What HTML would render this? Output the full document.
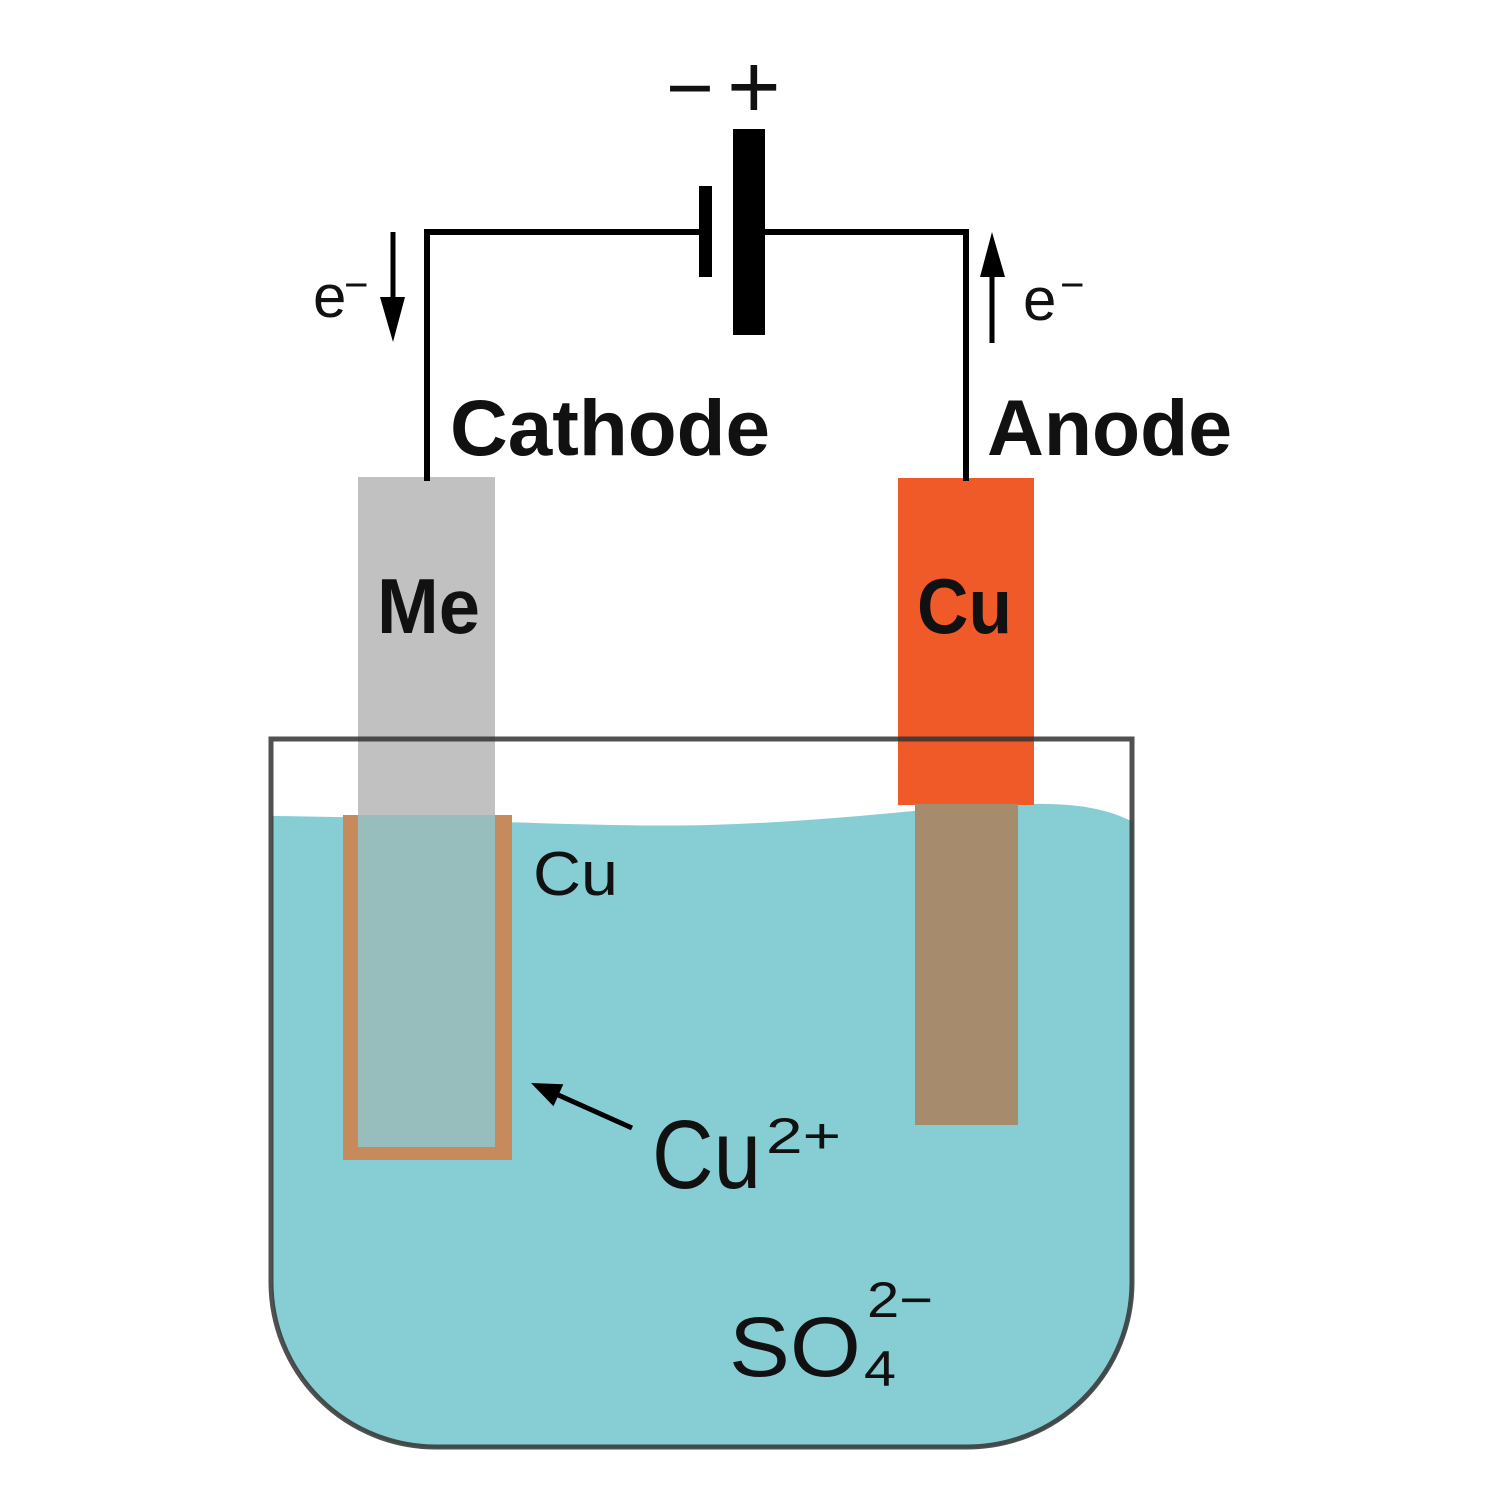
<!DOCTYPE html>
<html><head><meta charset="utf-8"><style>
html,body{margin:0;padding:0;background:#fff;}
svg{display:block;}
text{font-family:"Liberation Sans",Arial,sans-serif;fill:#111;}
</style></head><body>
<svg width="1500" height="1500" viewBox="0 0 1500 1500" xmlns="http://www.w3.org/2000/svg">
<rect width="1500" height="1500" fill="#fff"/>
<!-- water -->
<path d="M272,816 C450,818 600,828 709,825 C850,821 950,804 1031,804 C1080,803 1110,810 1133,822 V1283 A165,165 0 0 1 968,1448 H435 A165,165 0 0 1 272,1283 Z" fill="#87cdd4"/>
<!-- Me electrode -->
<rect x="358" y="477" width="137" height="339" fill="#c1c1c1"/>
<rect x="343" y="815" width="169" height="345" fill="#c68a5c"/>
<rect x="358" y="815" width="137" height="332" fill="#97bdbd"/>
<!-- Cu electrode -->
<rect x="898" y="478" width="136" height="327" fill="#f05a28"/>
<rect x="915" y="804" width="103" height="321" fill="#a68b6c"/>
<!-- container -->
<path d="M271,739 H1132 V1283 A165,165 0 0 1 967,1447 H436 A165,165 0 0 1 271,1283 Z" fill="none" stroke="#333" stroke-opacity="0.85" stroke-width="5"/>
<!-- wires -->
<path d="M427,478 V232 H700 M765,232 H966 V478" fill="none" stroke="#000" stroke-width="6" stroke-linecap="square" stroke-linejoin="miter"/>
<rect x="699" y="186" width="13" height="91" fill="#000"/>
<rect x="733" y="129" width="32" height="206" fill="#000"/>
<!-- battery signs -->
<text x="666" y="116" font-size="82">−</text>
<text x="727" y="118" font-size="92">+</text>
<!-- electron arrows -->
<rect x="390.5" y="232" width="5" height="70" fill="#000"/>
<polygon points="380,297 405,297 393,342" fill="#000"/>
<rect x="989.5" y="272" width="5" height="71" fill="#000"/>
<polygon points="980,277 1005,277 992,232" fill="#000"/>
<text x="313" y="317" font-size="60">e</text>
<text x="344" y="299" font-size="42">−</text>
<text x="1023" y="320" font-size="60">e</text>
<text x="1060" y="299" font-size="42">−</text>
<!-- labels -->
<text x="450" y="455" font-size="79" font-weight="bold" textLength="320" lengthAdjust="spacingAndGlyphs">Cathode</text>
<text x="987" y="455" font-size="79" font-weight="bold" textLength="245" lengthAdjust="spacingAndGlyphs">Anode</text>
<text x="377" y="633" font-size="78" font-weight="bold" textLength="103" lengthAdjust="spacingAndGlyphs">Me</text>
<text x="917" y="633" font-size="78" font-weight="bold" textLength="95" lengthAdjust="spacingAndGlyphs">Cu</text>
<text x="533" y="895" font-size="62" textLength="85" lengthAdjust="spacingAndGlyphs">Cu</text>
<!-- Cu2+ arrow -->
<line x1="632" y1="1128" x2="556" y2="1094" stroke="#000" stroke-width="5"/>
<polygon points="531,1083 563.3,1084.2 553.5,1106.2" fill="#000"/>
<text x="652" y="1188" font-size="97" textLength="109" lengthAdjust="spacingAndGlyphs">Cu</text>
<text x="766" y="1153" font-size="50" textLength="75" lengthAdjust="spacingAndGlyphs">2+</text>
<!-- SO4 2- -->
<text x="729" y="1376" font-size="84" textLength="132" lengthAdjust="spacingAndGlyphs">SO</text>
<text x="864" y="1386" font-size="50" textLength="32" lengthAdjust="spacingAndGlyphs">4</text>
<text x="867" y="1317" font-size="50" textLength="66" lengthAdjust="spacingAndGlyphs">2−</text>
</svg>
</body></html>
